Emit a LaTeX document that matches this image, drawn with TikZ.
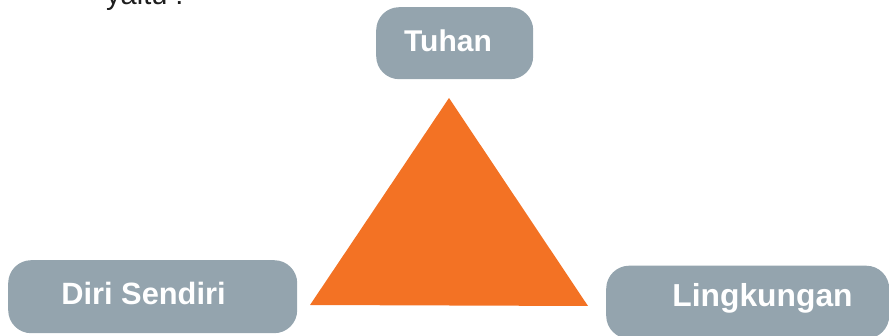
\documentclass[tikz,border=0pt]{standalone}
\usepackage{fontspec}
\setmainfont{Liberation Sans}
\definecolor{pill}{HTML}{94A4AE}
\definecolor{flame}{HTML}{F37224}
\definecolor{ink}{HTML}{1E1E1E}
\begin{document}
\begin{tikzpicture}[x=1pt,y=-1pt,
  pillbox/.style={fill=pill,draw=none,rounded corners=23pt,inner sep=0pt,anchor=north west},
  pilltext/.style={text=white,font=\bfseries,anchor=base,inner sep=0pt}]
  \useasboundingbox (0,0) rectangle (889,336);
  \clip (0,0) rectangle (889,336);

  % caption line running in from above
  \node[text=ink,font=\fontsize{29}{34}\selectfont,anchor=base west,inner sep=0pt] (intro) at (106,4.5) {yaitu :};

  % the three rounded labels
  \node[pillbox,minimum width=157pt,minimum height=72pt] (tuhan) at (376,7) {};
  \node[pillbox,minimum width=289pt,minimum height=73pt] (diri) at (8,260) {};
  \node[pillbox,minimum width=283pt,minimum height=73pt] (ling) at (606,265.5) {};

  \node[pilltext,font=\fontsize{30}{36}\selectfont\bfseries] (tuhanT) at (448,52) {Tuhan};
  \node[pilltext,font=\fontsize{30.8}{36}\selectfont\bfseries] (diriT) at (143.5,305) {Diri Sendiri};
  \node[pilltext,font=\fontsize{31.8}{38}\selectfont\bfseries] (lingT) at (762.5,307) {Lingkungan};

  % central triangle
  \coordinate (apex) at (449,98);
  \coordinate (bl) at (310,305);
  \coordinate (br) at (588,306);
  \fill[flame] (apex) -- (bl) -- (br) -- cycle;
\end{tikzpicture}
\end{document}
